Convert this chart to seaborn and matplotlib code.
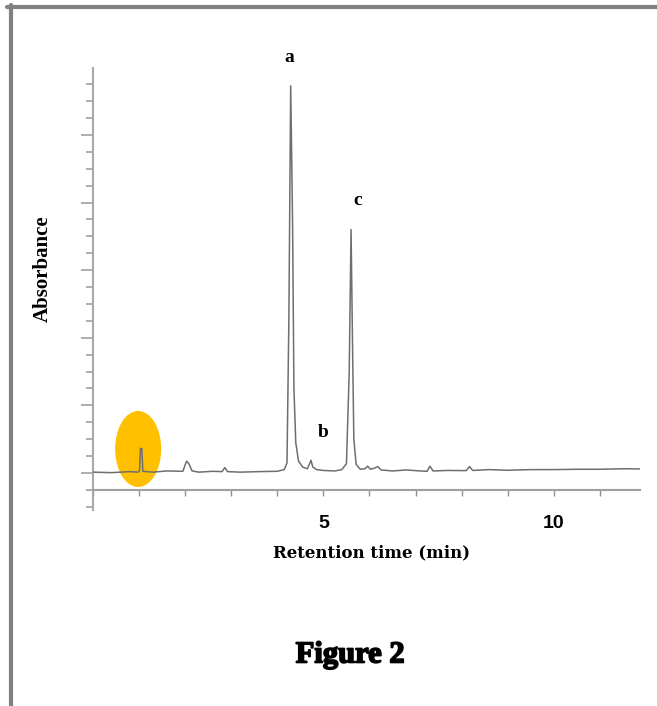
import matplotlib
matplotlib.use("Agg")
import matplotlib.patheffects as pe
import matplotlib.pyplot as plt
import pandas as pd
import seaborn as sns
from matplotlib.lines import Line2D
from matplotlib.patches import Ellipse
from matplotlib.ticker import FixedLocator, MultipleLocator

# chromatogram trace (time in min, absorbance in tick units)
trace_time = [0.00, 0.40, 0.80, 0.98, 1.01, 1.03, 1.06, 1.08, 1.30, 1.60,
              1.95, 2.03, 2.08, 2.15, 2.30, 2.60, 2.80, 2.86, 2.92, 3.20,
              3.60, 4.00, 4.15, 4.21, 4.25, 4.29, 4.33, 4.36, 4.40, 4.46,
              4.55, 4.65, 4.70, 4.73, 4.77, 4.85, 5.00, 5.25, 5.40, 5.50,
              5.56, 5.60, 5.63, 5.66, 5.71, 5.80, 5.90, 5.96, 6.02, 6.12,
              6.18, 6.25, 6.50, 6.80, 6.95, 7.10, 7.25, 7.31, 7.38, 7.70,
              8.10, 8.17, 8.24, 8.60, 9.00, 9.50, 10.00, 10.50, 11.00, 11.50,
              11.87]
trace_abs = [0.05, 0.02, 0.08, 0.05, 0.15, 1.45, 1.45, 0.10, 0.05, 0.12,
             0.10, 0.70, 0.55, 0.12, 0.05, 0.10, 0.08, 0.32, 0.08, 0.05,
             0.08, 0.10, 0.20, 0.60, 9.00, 22.90, 15.00, 5.00, 1.80, 0.70,
             0.35, 0.25, 0.55, 0.75, 0.35, 0.20, 0.15, 0.12, 0.20, 0.55,
             6.00, 14.40, 8.00, 2.00, 0.50, 0.22, 0.25, 0.40, 0.22, 0.30,
             0.38, 0.18, 0.12, 0.18, 0.15, 0.12, 0.10, 0.40, 0.12, 0.15,
             0.14, 0.38, 0.15, 0.20, 0.16, 0.20, 0.20, 0.22, 0.22, 0.25,
             0.24]

peak_names = ["a", "b", "c"]
peak_label_time = [4.25, 5.00, 5.75]
peak_label_abs = [24.6, 2.4, 16.1]

x_tick_values = [5, 10]
x_tick_labels = ["5", "10"]

sns.set_style("white")
plt.rcParams["font.family"] = ["Liberation Serif", "DejaVu Serif"]
plt.rcParams["text.color"] = "black"
plt.rcParams["axes.labelcolor"] = "black"
plt.rcParams["xtick.labelcolor"] = "black"

W, H = 657, 706
fig = plt.figure(figsize=(W / 100, H / 100), dpi=100)
ax = fig.add_axes([93 / W, 1 - 510 / H, (640 - 93) / W, (510 - 68) / H])

df = pd.DataFrame({"time": trace_time, "absorbance": trace_abs})

# highlight around the first small peak
ax.add_patch(Ellipse((0.98, 1.42), 1.0, 4.5, color="#FFC000", lw=0, zorder=1))

sns.lineplot(data=df, x="time", y="absorbance", sort=False, estimator=None,
             color="#6e6e6e", linewidth=1.1, ax=ax, zorder=3)

for name, t, a in zip(peak_names, peak_label_time, peak_label_abs):
    ax.text(t, a, name, ha="center", va="center", fontsize=14,
            fontweight="bold", clip_on=False)

ax.set_xlim(0, 11.87)
ax.set_ylim(-2.19, 23.96)

for side in ["top", "right"]:
    ax.spines[side].set_visible(False)
ax.spines["left"].set_color("#a8a8a8")
ax.spines["left"].set_linewidth(1.5)
ax.spines["bottom"].set_color("#a0a0a0")
ax.spines["bottom"].set_linewidth(1.5)
ax.spines["bottom"].set_position(("data", -1.0))

ax.yaxis.set_major_locator(MultipleLocator(4))
ax.yaxis.set_minor_locator(MultipleLocator(1))
ax.tick_params(axis="y", which="major", length=9, width=1.2, color="#a0a0a0",
               labelleft=False, left=True)
ax.tick_params(axis="y", which="minor", length=5, width=1.2, color="#a0a0a0",
               left=True)

ax.xaxis.set_major_locator(FixedLocator(x_tick_values))
ax.set_xticklabels(x_tick_labels)
ax.xaxis.set_minor_locator(MultipleLocator(1))
ax.tick_params(axis="x", which="both", length=4, width=1.0, color="#909090",
               bottom=True, pad=14)
for lab in ax.get_xticklabels():
    lab.set_fontfamily("Liberation Sans")
    lab.set_fontweight("bold")
    lab.set_fontsize(14)

ax.set_ylabel("Absorbance", fontsize=15, fontweight="bold")
ax.yaxis.set_label_coords(-0.073, 0.547)
ax.set_xlabel("Retention time (min)", fontsize=12, fontweight="bold",
              family=["DejaVu Serif"])
ax.xaxis.set_label_coords(0.51, -0.077)

fig.text(350 / W, 1 - 655 / H, "Figure 2", ha="center", va="center",
         fontsize=22, fontweight="bold",
         path_effects=[pe.withStroke(linewidth=1.2, foreground="black")])

# grey frame on the top and left edges
fig.add_artist(Line2D([7 / W, 1], [1 - 7 / H, 1 - 7 / H], color="#808080", lw=3))
fig.add_artist(Line2D([11 / W, 11 / W], [0, 1 - 5 / H], color="#808080", lw=3))

fig.savefig("out.png", dpi=100)
